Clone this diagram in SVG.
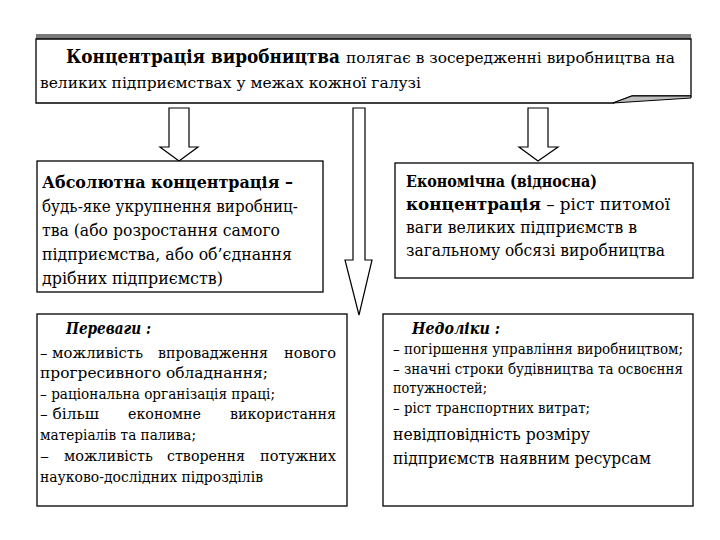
<svg xmlns="http://www.w3.org/2000/svg" width="720" height="540" viewBox="0 0 720 540" font-family="'DejaVu Serif', serif">
<style>
  text { font-family: "DejaVu Serif", "Liberation Serif", serif; fill: #000; }
  .b { font-weight: bold; }
  .bi { font-weight: bold; font-style: italic; }
  .box { fill: #fff; stroke: #000; stroke-width: 1.3; }
  .arr { fill: #fff; stroke: #000; stroke-width: 1.2; stroke-linejoin: miter; }
  .t20 { font-size: 17px; }
  .t18 { font-size: 15.5px; }
  .t17 { font-size: 15px; }
</style>
<rect width="720" height="540" fill="#fff"/>

<g id="top">
  <rect x="36" y="34" width="655" height="5" fill="#7a7a7a"/>
  <path class="box" d="M36,39 H691 V96 H632 L613,103 H36 Z"/>
  <polygon points="613,103 632,96 691,96 691,98" fill="#bdbdbd" stroke="#000" stroke-width="1"/>
  <text x="66" y="63" class="b" font-size="18" textLength="274" lengthAdjust="spacingAndGlyphs">Концентрація виробництва</text>
  <text x="346" y="63" font-size="15.5" textLength="329" lengthAdjust="spacingAndGlyphs">полягає в зосередженні виробництва на</text>
  <text x="40" y="88" font-size="15.5" textLength="381" lengthAdjust="spacingAndGlyphs">великих підприємствах у межах кожної галузі</text>
</g>

<g id="connectors">
  <polygon class="arr" points="169,108 189,108 189,147 198,147 179,161 160,147 169,147"/>
  <polygon class="arr" points="528,108 548,108 548,147 558,147 538,161 519,147 528,147"/>
  <polygon class="arr" points="353,108 365,108 365,260 372,260 359,315 345,260 353,260"/>
</g>

<g id="absolute">
  <rect class="box" x="37" y="161" width="286" height="131"/>
  <text x="42" y="188" class="b t20" textLength="251" lengthAdjust="spacingAndGlyphs">Абсолютна концентрація –</text>
  <text x="42" y="212" class="t20" textLength="256" lengthAdjust="spacingAndGlyphs">будь-яке укрупнення виробниц-</text>
  <text x="42" y="236" class="t20" textLength="238" lengthAdjust="spacingAndGlyphs">тва (або розростання самого</text>
  <text x="42" y="260" class="t20" textLength="250" lengthAdjust="spacingAndGlyphs">підприємства, або об’єднання</text>
  <text x="42" y="284" class="t20" textLength="181" lengthAdjust="spacingAndGlyphs">дрібних підприємств)</text>
</g>

<g id="economic">
  <rect class="box" x="395" y="163" width="298" height="115"/>
  <text x="406" y="187" class="b t20" textLength="191" lengthAdjust="spacingAndGlyphs">Економічна (відносна)</text>
  <text x="406" y="210" class="t20" textLength="264" lengthAdjust="spacingAndGlyphs"><tspan class="b">концентрація</tspan> – ріст питомої</text>
  <text x="406" y="233" class="t20" textLength="231" lengthAdjust="spacingAndGlyphs">ваги великих підприємств в</text>
  <text x="406" y="256" class="t20" textLength="259" lengthAdjust="spacingAndGlyphs">загальному обсязі виробництва</text>
</g>

<g id="advantages">
  <rect class="box" x="37" y="314" width="310" height="192"/>
  <text x="66" y="334" class="bi" font-size="16" textLength="85" lengthAdjust="spacingAndGlyphs">Переваги :</text>
  <text x="40" y="358" class="t18" textLength="103" lengthAdjust="spacingAndGlyphs">– можливість</text>
  <text x="158" y="358" class="t18" textLength="110" lengthAdjust="spacingAndGlyphs">впровадження</text>
  <text x="284" y="358" class="t18" textLength="52" lengthAdjust="spacingAndGlyphs">нового</text>
  <text x="40" y="378" class="t18" textLength="228" lengthAdjust="spacingAndGlyphs">прогресивного обладнання;</text>
  <text x="40" y="399" class="t18" textLength="235" lengthAdjust="spacingAndGlyphs">– раціональна організація праці;</text>
  <text x="40" y="419" class="t18" textLength="59" lengthAdjust="spacingAndGlyphs">– більш</text>
  <text x="128" y="419" class="t18" textLength="73" lengthAdjust="spacingAndGlyphs">економне</text>
  <text x="230" y="419" class="t18" textLength="106" lengthAdjust="spacingAndGlyphs">використання</text>
  <text x="40" y="440" class="t18" textLength="156" lengthAdjust="spacingAndGlyphs">матеріалів та палива;</text>
  <text x="40" y="461" class="t18" textLength="9" lengthAdjust="spacingAndGlyphs">–</text>
  <text x="64" y="461" class="t18" textLength="89" lengthAdjust="spacingAndGlyphs">можливість</text>
  <text x="167" y="461" class="t18" textLength="78" lengthAdjust="spacingAndGlyphs">створення</text>
  <text x="260" y="461" class="t18" textLength="76" lengthAdjust="spacingAndGlyphs">потужних</text>
  <text x="40" y="482" class="t18" textLength="223" lengthAdjust="spacingAndGlyphs">науково-дослідних підрозділів</text>
</g>

<g id="disadvantages">
  <rect class="box" x="383" y="314" width="310" height="192"/>
  <text x="412" y="334" class="bi" font-size="16" textLength="88" lengthAdjust="spacingAndGlyphs">Недоліки :</text>
  <text x="393" y="354" class="t17" textLength="290" lengthAdjust="spacingAndGlyphs">– погіршення управління виробництвом;</text>
  <text x="393" y="374" class="t17" textLength="290" lengthAdjust="spacingAndGlyphs">– значні строки будівництва та освоєння</text>
  <text x="393" y="393" class="t17" textLength="94" lengthAdjust="spacingAndGlyphs">потужностей;</text>
  <text x="393" y="413" class="t17" textLength="197" lengthAdjust="spacingAndGlyphs">– ріст транспортних витрат;</text>
  <text x="393" y="440" font-size="17.5" textLength="197" lengthAdjust="spacingAndGlyphs">невідповідність розміру</text>
  <text x="393" y="464" font-size="17.5" textLength="258" lengthAdjust="spacingAndGlyphs">підприємств наявним ресурсам</text>
</g>
</svg>
